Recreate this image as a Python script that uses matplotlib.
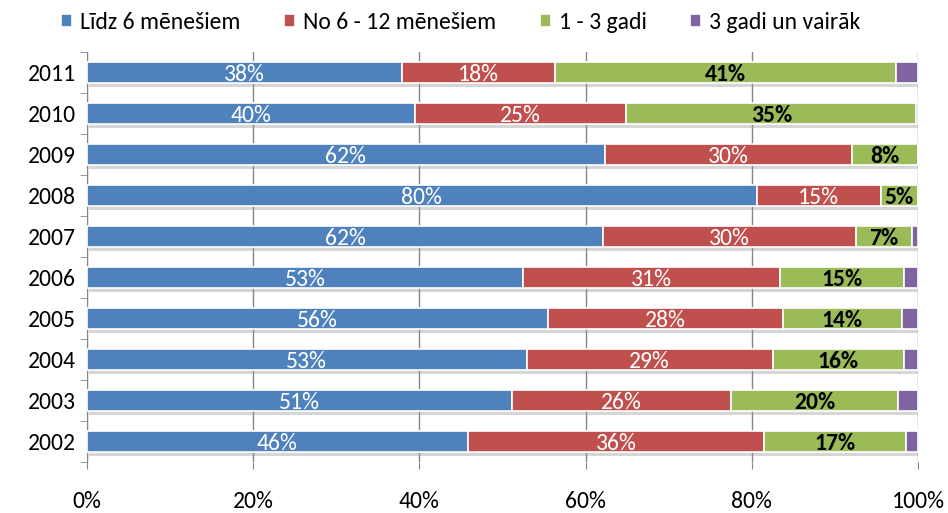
import matplotlib
matplotlib.use("Agg")
import matplotlib.pyplot as plt
import matplotlib.patheffects as pe
from matplotlib import font_manager
import numpy as np

years = ["2011", "2010", "2009", "2008", "2007", "2006", "2005", "2004", "2003", "2002"]
series_names = ["Līdz 6 mēnešiem", "No 6 - 12 mēnešiem", "1 - 3 gadi", "3 gadi un vairāk"]
lidz6 = [37.9, 39.5, 62.3, 80.6, 62.1, 52.5, 55.5, 52.9, 51.1, 45.8]
no6_12 = [18.4, 25.4, 29.8, 14.9, 30.4, 30.9, 28.2, 29.6, 26.4, 35.7]
g1_3 = [41.1, 34.9, 7.9, 4.5, 6.8, 14.9, 14.4, 15.8, 20.1, 17.0]
g3plus = [2.6, 0.2, 0.0, 0.0, 0.7, 1.7, 1.9, 1.7, 2.4, 1.5]
labels_lidz6 = ["38%", "40%", "62%", "80%", "62%", "53%", "56%", "53%", "51%", "46%"]
labels_no6_12 = ["18%", "25%", "30%", "15%", "30%", "31%", "28%", "29%", "26%", "36%"]
labels_g1_3 = ["41%", "35%", "8%", "5%", "7%", "15%", "14%", "16%", "20%", "17%"]
xticks = [0, 20, 40, 60, 80, 100]
xticklabels = ["0%", "20%", "40%", "60%", "80%", "100%"]

avail = {f.name for f in font_manager.fontManager.ttflist}
fam = None
for cand in ["Carlito", "Liberation Sans Narrow", "Open Sans"]:
    if cand in avail:
        fam = cand
        break
if fam is None:
    fam = "DejaVu Sans"
plt.rcParams['font.family'] = [fam, 'DejaVu Sans']
if fam == "Open Sans":
    plt.rcParams['font.stretch'] = 'condensed'
fs = 17 if fam == "Carlito" else 15

colors = ["#4F81BD", "#C0504D", "#9BBB59", "#8064A2"]
data = [lidz6, no6_12, g1_3, g3plus]
labs = [labels_lidz6, labels_no6_12, labels_g1_3, None]
txtcol = ["white", "white", "black", None]
txtweight = ["normal", "normal", "bold", None]

fig = plt.figure(figsize=(9.48, 5.13), dpi=100)
ax = fig.add_axes([87/948, 1-462/513, (918-87)/948, (462-52)/513])

y = np.arange(len(years))[::-1]
left = np.zeros(len(years))
shadow = [pe.SimplePatchShadow(offset=(1.5, -3), shadow_rgbFace="#999999", alpha=0.4), pe.Normal()]
for i, (vals, col) in enumerate(zip(data, colors)):
    vals = np.array(vals)
    bars = ax.barh(y, vals, left=left, height=0.5, color=col, edgecolor="white",
                   linewidth=1.2, label=series_names[i], zorder=3)
    for b in bars:
        b.set_path_effects(shadow)
    if labs[i] is not None:
        for yy, l, v, t in zip(y, left, vals, labs[i]):
            ax.text(l + v/2, yy - 0.05, t, ha="center", va="center", color=txtcol[i],
                    fontsize=fs, fontweight=txtweight[i], zorder=4)
    left = left + vals

ax.set_xlim(0, 100)
ax.set_ylim(-0.5, len(years) - 0.5)
ax.set_yticks(y)
ax.set_yticklabels(years, fontsize=fs)
ax.set_xticks(xticks)
ax.set_xticklabels(xticklabels, fontsize=fs)
ax.xaxis.grid(True, color="#868686", linewidth=1, zorder=0)
ax.tick_params(axis="x", length=5, color="#868686", pad=16)
ax.set_yticks(np.arange(-0.5, len(years), 1), minor=True)
ax.tick_params(axis="y", which="minor", length=5, color="#868686")
ax.tick_params(axis="y", which="major", length=0, pad=8)
for s in ["top", "right", "bottom"]:
    ax.spines[s].set_visible(False)
ax.spines["left"].set_color("#868686")

leg = fig.legend(loc="upper left", bbox_to_anchor=(40/948, 1+9/513), ncol=4, frameon=False,
                 fontsize=fs, handlelength=0.45, handleheight=0.45, handletextpad=0.35,
                 columnspacing=1.85)
for h in leg.legend_handles:
    h.set_path_effects([])

fig.savefig("out.png", dpi=100)
